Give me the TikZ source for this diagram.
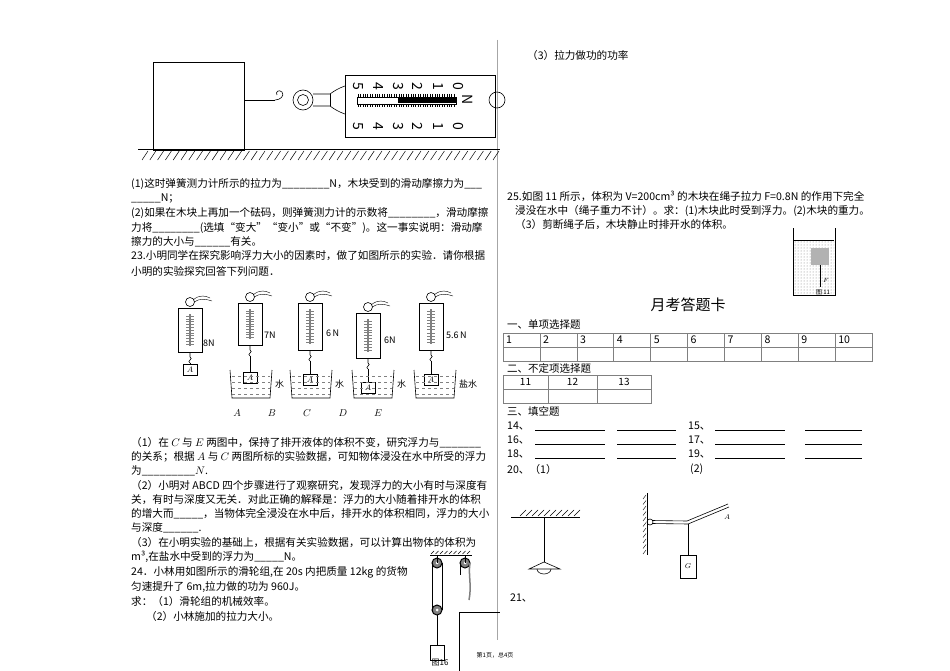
\documentclass[tikz,border=0pt]{standalone}
\usepackage{fontspec}
\setmainfont{Noto Sans CJK SC}
\usetikzlibrary{patterns}
\tikzset{tx/.style={anchor=west,inner sep=0pt,font=\fontsize{10.6}{12}\selectfont},
sm/.style={inner sep=0pt,font=\fontsize{8}{9}\selectfont},
ln/.style={line width=0.6pt},
cell/.style={draw=gray,line width=0.5pt}}
\begin{document}
\begin{tikzpicture}[x=1pt,y=-1pt]
\useasboundingbox (0,0) rectangle (950,671);
\fill[white] (0,0) rectangle (950,671);
% divider
\draw[gray!70,line width=0.6pt] (497,40) -- (497,640);
% ---- top figure
\draw[ln] (153,62) rectangle (244,150);
\draw[line width=1pt] (138,150) -- (500,150);
\foreach \i in {0,...,45}{\draw[line width=0.5pt] (142+\i*7.8,160) -- (148+\i*7.8,151);}
\draw[ln] (244,100) -- (275,100);
\draw[ln] (275,100) .. controls (280,100) and (285,96) .. (282,92) .. controls (279,89) and (275,92) .. (277,95);
\node[draw,circle,ln,minimum size=20pt,inner sep=0pt] (r1) at (303,100) {};
\node[draw,circle,ln,minimum size=11pt,inner sep=0pt] at (303,100) {};
\draw[ln] (313,94) -- (330,94) (313,106) -- (330,106) (330,94) .. controls (338,88) and (345,86) .. (345,86) (330,106) .. controls (338,112) and (345,114) .. (345,114);
\draw[ln] (330,94) -- (330,106);
\draw[ln] (345,75) rectangle (495,137);
\draw[ln] (357,97) rectangle (456,104);
\fill (398,98) rectangle (456,103);
\foreach \i in {0,...,40}{\draw[line width=0.3pt] (358+\i*2.4,94) -- (358+\i*2.4,97) (358+\i*2.4,104) -- (358+\i*2.4,107);}
\foreach \n [count=\k from 0] in {5,4,3,2,1,0}{
 \node[sm,rotate=-90,font=\fontsize{14}{15}\selectfont] (ta\k) at (358+\k*20,86) {\n};
 \node[sm,rotate=-90,font=\fontsize{14}{15}\selectfont] (tb\k) at (358+\k*20,126) {\n};}
\node[sm,rotate=-90,font=\fontsize{14}{15}\selectfont] (nn) at (468,100) {N};
\node[draw,circle,ln,minimum size=16pt,inner sep=0pt] (r2) at (497,100) {};
% ---- text block 1
\node[tx] (t1) at (131,184) {(1)这时弹簧测力计所示的拉力为\_\_\_\_\_\_\_\_N，木块受到的滑动摩擦力为\_\_\_};
\node[tx] (t2) at (131,198) {\_\_\_\_\_N；};
\node[tx] (t3) at (131,213) {(2)如果在木块上再加一个砝码，则弹簧测力计的示数将\_\_\_\_\_\_\_\_，滑动摩擦};
\node[tx] (t4) at (131,228) {力将\_\_\_\_\_\_\_\_(选填“变大”“变小”或“不变”)。这一事实说明：滑动摩};
\node[tx] (t5) at (131,242) {擦力的大小与\_\_\_\_\_\_有关。};
\node[tx] (t6) at (131,256) {23.小明同学在探究影响浮力大小的因素时，做了如图所示的实验．请你根据};
\node[tx] (t7) at (131,271) {小明的实验探究回答下列问题．};
% ---- spring scales
\foreach \x/\yt/\yb/\lab/\lx/\ly/\by in {190/308/352/8N/203/343/370,250/303/345/7N/264/335/378,310/303/350/6\,N/326/333/380,368/313/358/6N/384/340/388,431/303/350/5.6\,N/446/335/380}{
 \draw[ln] (\x,\yt-6) circle (4.5);
 \draw[line width=0.4pt] (\x+3,\yt-8) .. controls (\x+10,\yt-14) and (\x+16,\yt-12) .. (\x+20,\yt-10);
 \draw[line width=0.4pt] (\x+4,\yt-6) .. controls (\x+10,\yt-10) and (\x+16,\yt-9) .. (\x+22,\yt-7);
 \draw[ln] (\x-12,\yt) -- (\x+12,\yt) -- (\x+12,\yb) -- (\x-12,\yb) -- cycle;
 \draw[line width=1.4pt,gray] (\x,\yt+6) -- (\x,\yb-6);
 \pgfmathsetmacro\dd{(\yb-\yt-16)/10}
 \foreach \j in {0,...,10}{\pgfmathsetmacro\yy{\yt+8+\j*\dd}\draw[line width=0.3pt,gray] (\x-4,\yy) -- (\x+4,\yy);}
 \draw[ln] (\x,\yb) -- (\x,\yb+5) .. controls (\x+4,\yb+7) and (\x-4,\yb+9) .. (\x,\yb+11);
 \draw[ln] (\x,\yb+11) -- (\x,\by-6);
 \draw[ln,fill=white] (\x-7,\by-6) rectangle (\x+7,\by+5);
 \node[sm] at (\x,\by) {$A$};
 \node[sm,anchor=west,font=\fontsize{9}{10}\selectfont] at (\lx,\ly) {\lab};
}
\foreach \x/\lq in {251/水,311/水,373/水,435/盐水}{
 \draw[ln] (\x-21,370) -- (\x-19,398) -- (\x+19,398) -- (\x+21,370);
 \draw[dashed,line width=0.3pt,gray] (\x-19,376) -- (\x+19,376) (\x-19,382) -- (\x+19,382) (\x-19,388) -- (\x+19,388) (\x-19,394) -- (\x+19,394);
 \node[sm,anchor=west,font=\fontsize{9}{10}\selectfont] at (\x+24,384) {\lq};
}
\foreach \x/\l in {237/A,272/B,307/C,343/D,378/E}{\node[sm,font=\fontsize{10}{11}\selectfont] at (\x,413) {$\l$};}
% ---- text block 2
\node[tx] at (131,443) {（1）在 $C$ 与 $E$ 两图中，保持了排开液体的体积不变，研究浮力与\_\_\_\_\_\_\_};
\node[tx] at (131,457) {的关系；根据 $A$ 与 $C$ 两图所标的实验数据，可知物体浸没在水中所受的浮力};
\node[tx] at (131,471) {为\_\_\_\_\_\_\_\_\_$N$.};
\node[tx] at (131,486) {（2）小明对 ABCD 四个步骤进行了观察研究，发现浮力的大小有时与深度有};
\node[tx] at (131,500) {关，有时与深度又无关．对此正确的解释是：浮力的大小随着排开水的体积};
\node[tx] at (131,514) {的增大而\_\_\_\_\_，当物体完全浸没在水中后，排开水的体积相同，浮力的大小};
\node[tx] at (131,528) {与深度\_\_\_\_\_\_.};
\node[tx] at (131,543) {（3）在小明实验的基础上，根据有关实验数据，可以计算出物体的体积为};
\node[tx] at (131,557) {m³,在盐水中受到的浮力为\_\_\_\_\_N。};
\node[tx] at (131,572) {24．小林用如图所示的滑轮组,在 20s 内把质量 12kg 的货物};
\node[tx] at (131,587) {匀速提升了 6m,拉力做的功为 960J。};
\node[tx] at (131,601) {求：（1）滑轮组的机械效率。};
\node[tx] at (146,616) {（2）小林施加的拉力大小。};
% ---- pulley fig
\draw[line width=1pt] (430,555) -- (472,555);
\foreach \i in {0,...,8}{\draw[line width=0.4pt] (431+\i*4.5,554) -- (434+\i*4.5,551);}
\foreach \p in {(437,563),(465,563),(437,610)}{\draw[line width=1pt,fill=gray] \p circle (5); \fill[white] \p circle (1.5);}
\draw[ln] (437,555) -- (437,563) (465,555) -- (465,563);
\draw[ln] (432,563) -- (432,612) (442,563) -- (442,610) (460,563) -- (460,575);
\draw[line width=1.5pt,gray] (470,563) .. controls (468,575) and (472,585) .. (469,600);
\draw[ln] (437,615) -- (437,645);
\draw[ln] (430,645) rectangle (444,660);
\draw[ln] (459,612) -- (500,612) (459,612) -- (459,671);
\node[sm] at (440,663) {图16};
\node[sm,font=\fontsize{6}{7}\selectfont] at (495,655) {第1页，总4页};
% ---- right column
\node[tx] at (527,55) {（3）拉力做功的功率};
\node[tx] at (507,196) {25.如图 11 所示，体积为 V=200cm³ 的木块在绳子拉力 F=0.8N 的作用下完全};
\node[tx] at (515,211) {浸没在水中（绳子重力不计）。求：(1)木块此时受到浮力。(2)木块的重力。};
\node[tx] at (515,225) {（3）剪断绳子后，木块静止时排开水的体积。};
\draw[ln] (793,228) -- (793,295) -- (835,295) -- (835,228);
\fill[pattern=dots,pattern color=gray] (794,240) rectangle (834,294);
\draw[line width=0.4pt] (794,240) -- (834,240);
\fill[gray!60] (811,248) rectangle (829,265);
\draw[line width=0.4pt] (820,265) -- (820,287);
\node[sm,font=\fontsize{6}{7}\selectfont] at (826,280) {$F$};
\node[sm,font=\fontsize{6}{7}\selectfont] at (823,292) {图 11};
\node[inner sep=0pt,font=\fontsize{15}{16}\selectfont] at (688,305) {月考答题卡};
\node[tx,font=\fontsize{10.5}{12}\selectfont] at (507,325) {一、单项选择题};
\foreach \i in {0,...,9}{\draw[cell] (503+\i*36.9,333) rectangle (503+\i*36.9+36.9,347) (503+\i*36.9,347) rectangle (503+\i*36.9+36.9,361);
 \pgfmathtruncatemacro\nn{\i+1}\node[tx] at (506+\i*36.9,340) {\nn};}
\node[tx,font=\fontsize{10.5}{12}\selectfont] at (507,368) {二、不定项选择题};
\foreach \a/\b/\n in {503/548/11,548/597/12,597/651/13}{\draw[cell] (\a,375) rectangle (\b,389) (\a,389) rectangle (\b,403); \node[sm,font=\fontsize{10}{11}\selectfont] at ({(\a+\b)/2},382) {\n};}
\node[tx,font=\fontsize{10.5}{12}\selectfont] at (507,411) {三、填空题};
\foreach \y/\a/\b in {426/14/15,440/16/17,454/18/19}{
 \node[tx] at (507,\y) {\a、}; \node[tx] at (688,\y) {\b、};
 \draw[line width=0.5pt] (535,\y+4) -- (605,\y+4) (617,\y+4) -- (676,\y+4) (715,\y+4) -- (785,\y+4) (805,\y+4) -- (862,\y+4);}
\node[tx] at (507,469) {20、（1）};
\node[tx] at (690,469) {(2)};
% lamp
\draw[ln] (511,517) -- (580,517);
\foreach \i in {0,...,9}{\draw[line width=0.4pt] (520+\i*6,516) -- (526+\i*6,510);}
\draw[ln] (544,517) -- (544,562);
\draw[ln] (529,569) -- (544,562) -- (560,569) -- cycle;
\draw[ln] (537,569) arc (180:0:7 and 5);
% lever
\draw[ln] (647,493) -- (647,555);
\foreach \i in {0,...,10}{\draw[line width=0.4pt] (646,495+\i*5.5) -- (643,499+\i*5.5);}
\draw[ln] (650,522) circle (3);
\draw[line width=0.6pt] (652,520.5) -- (687,521) -- (728,504) (652,523.5) -- (688,524) -- (729,507);
\draw[ln] (688,524) -- (688,555);
\draw[ln] (680,555) rectangle (696,578);
\node[sm,font=\fontsize{7}{8}\selectfont] at (688,566) {$G$};
\node[sm,font=\fontsize{7}{8}\selectfont] at (727,517) {$A$};
\node[tx] at (510,598) {21、};
\end{tikzpicture}
\end{document}
